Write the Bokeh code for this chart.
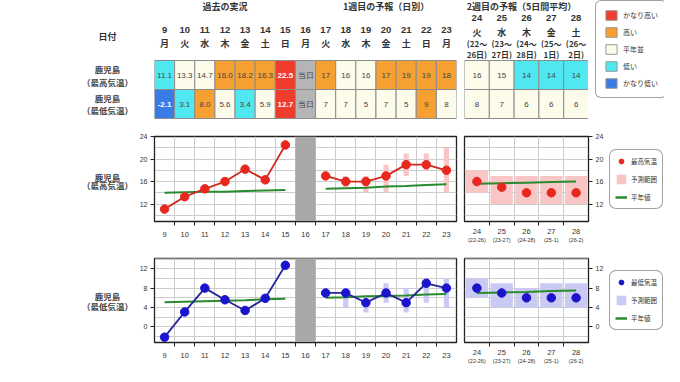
from bokeh.plotting import figure
from bokeh.layouts import row, column
from bokeh.models import Range1d, FixedTicker, LinearAxis, Legend, LegendItem, Label, ColumnDataSource
from bokeh.core.properties import value
from bokeh.embed import file_html
from bokeh.resources import INLINE

JP = "Noto Sans CJK JP"
NUM = "Liberation Sans"

# ---------------- data ----------------
past_days = [9, 10, 11, 12, 13, 14, 15]
today = 16
fc_days = [17, 18, 19, 20, 21, 22, 23]
w2_days = [24, 25, 26, 27, 28]
w1_weekdays = ["月", "火", "水", "木", "金", "土", "日", "月", "火", "水", "木", "金", "土", "日", "月"]
w2_weekdays = ["火", "水", "木", "金", "土"]
w2_from = ["22", "23", "24", "25", "26"]
w2_to = ["26", "27", "28", "1", "2"]

past_max = [11.1, 13.3, 14.7, 16.0, 18.2, 16.3, 22.5]
past_min = [-2.1, 3.1, 8.0, 5.6, 3.4, 5.9, 12.7]
past_max_cls = ["低い", "平年並", "平年並", "高い", "高い", "高い", "かなり高い"]
past_min_cls = ["かなり低い", "低い", "高い", "平年並", "低い", "平年並", "かなり高い"]
past_max_norm = [14.0, 14.1, 14.2, 14.2, 14.3, 14.4, 14.5]
past_min_norm = [5.1, 5.2, 5.3, 5.4, 5.5, 5.7, 5.8]

fc_max = [17, 16, 16, 17, 19, 19, 18]
fc_max_lo = [None, 15, 14, 14, 17, 18, 14]
fc_max_hi = [None, 17, 17, 19, 21, 21, 22]
fc_max_cls = ["高い", "平年並", "平年並", "高い", "高い", "高い", "高い"]
fc_max_norm = [14.7, 14.8, 14.9, 15.1, 15.2, 15.4, 15.5]

fc_min = [7, 7, 5, 7, 5, 9, 8]
fc_min_lo = [None, 4, 3, 5, 3, 5, 4]
fc_min_hi = [None, 8, 5, 9, 8, 10, 10]
fc_min_cls = ["平年並", "平年並", "平年並", "平年並", "平年並", "高い", "平年並"]
fc_min_norm = [6.0, 6.1, 6.3, 6.4, 6.5, 6.7, 6.8]

w2_max = [16, 15, 14, 14, 14]
w2_max_lo = [14, 12, 12, 12, 12]
w2_max_hi = [18, 17, 17, 17, 17]
w2_max_cls = ["平年並", "平年並", "低い", "低い", "低い"]
w2_max_norm = [15.6, 15.7, 15.8, 15.9, 16.0]

w2_min = [8, 7, 6, 6, 6]
w2_min_lo = [6, 4, 4, 4, 4]
w2_min_hi = [10, 9, 8, 9, 9]
w2_min_cls = ["平年並", "平年並", "平年並", "平年並", "平年並"]
w2_min_norm = [7.0, 7.1, 7.2, 7.4, 7.5]

classes = ["かなり高い", "高い", "平年並", "低い", "かなり低い"]
class_colors = ["#F03C2D", "#F6A031", "#FDFBEA", "#50E8F0", "#3A7CE6"]
CLS = dict(zip(classes, class_colors))
TODAY_LABEL = "当日"

# ---------------- styles / layout ----------------
LBL_W, W1_W, W2T_W, CL_W, W2C_W, LG_W = 132, 328, 128, 76, 148, 56
H1, H2, H3 = 120, 125, 121
LBL_X = 107
TODAY_GRAY = "#B5B5B5"
MAX_LINE, MAX_PT = "#CF2B1F", "#E8271E"
MIN_LINE, MIN_PT = "#26259B", "#1B14CC"
PINK, LAV = "#F9C6C6", "#CACAF5"
GREEN = "#2A8A2E"
BAND = "#A8A8A8"
TXT = "#333333"
GRID = "#cccccc"


def fig(w, h, **kw):
    p = figure(width=w, height=h, output_backend="svg", toolbar_location=None, **kw)
    p.outline_line_color = None
    p.background_fill_color = "white"
    p.border_fill_color = "white"
    return p


def blank(w, h, xr, yr, **kw):
    kw.setdefault("min_border", 0)
    return fig(w, h, x_range=xr, y_range=yr, x_axis_type=None, y_axis_type=None, **kw)


def txt(p, x, y, t, size="8px", color=TXT, bold=False, align="center", font=JP):
    p.text(x=x, y=y, text=t, text_align=align, text_baseline="middle",
           text_font=value(font), text_font_size=size, text_color=color,
           text_font_style="bold" if bold else "normal")


def cell_texts(p, xs, y, vals, cls):
    strong = [i for i, c in enumerate(cls) if c in ("かなり高い", "かなり低い")]
    weak = [i for i in range(len(xs)) if i not in strong]
    if weak:
        txt(p, [xs[i] for i in weak], [y] * len(weak), [vals[i] for i in weak], size="8px", color="#444444", font=NUM)
    if strong:
        txt(p, [xs[i] for i in strong], [y] * len(strong), [vals[i] for i in strong], size="8px", color="white", bold=True, font=NUM)


# ---------------- row 1 : table ----------------
R1_Y, R2_Y, CELL_H = 74.5, 103.5, 29

lab1 = blank(LBL_W, H1, Range1d(0, LBL_W), Range1d(H1, 0))
txt(lab1, [LBL_X], [36], ["日付"], size="9px", bold=True)
txt(lab1, [LBL_X] * 4, [68, 81, 97, 109], ["鹿児島", "（最高気温）", "鹿児島", "（最低気温）"], size="8.5px", bold=True, color="#444444")

w1_days = past_days + [today] + fc_days
t1 = blank(W1_W, H1, Range1d(past_days[0] - 0.5, fc_days[-1] + 0.5), Range1d(H1, 0),
           min_border_left=22, min_border_right=4)
txt(t1, [(past_days[0] + past_days[-1]) / 2], [6], ["過去の実況"], size="9px", bold=True)
txt(t1, [(fc_days[0] + fc_days[-1]) / 2], [6], ["1週目の予報（日別）"], size="9px", bold=True)
txt(t1, w1_days, [29] * 15, [str(d) for d in w1_days], size="9.5px", bold=True, font=NUM)
txt(t1, w1_days, [43] * 15, w1_weekdays, size="9px", bold=True)

row1_vals = [f"{v:.1f}" for v in past_max] + [TODAY_LABEL] + [str(v) for v in fc_max]
row2_vals = [f"{v:.1f}" for v in past_min] + [TODAY_LABEL] + [str(v) for v in fc_min]
row1_cls = past_max_cls + ["today"] + fc_max_cls
row2_cls = past_min_cls + ["today"] + fc_min_cls
row1_col = [CLS.get(c, TODAY_GRAY) for c in row1_cls]
row2_col = [CLS.get(c, TODAY_GRAY) for c in row2_cls]
t1.rect(x=w1_days, y=[R1_Y] * 15, width=1, height=CELL_H, fill_color=row1_col, line_color="#8c8c8c", line_width=1)
t1.rect(x=w1_days, y=[R2_Y] * 15, width=1, height=CELL_H, fill_color=row2_col, line_color="#8c8c8c", line_width=1)
cell_texts(t1, w1_days, R1_Y, row1_vals, row1_cls)
cell_texts(t1, w1_days, R2_Y, row2_vals, row2_cls)

t2 = blank(W2T_W, H1, Range1d(w2_days[0] - 0.5, w2_days[-1] + 0.5), Range1d(H1, 0),
           min_border_left=4, min_border_right=0)
txt(t2, [(w2_days[0] + w2_days[-1]) / 2 - 0.2], [6], ["2週目の予報（5日間平均）"], size="9px", bold=True)
txt(t2, w2_days, [17] * 5, [str(d) for d in w2_days], size="9.5px", bold=True, font=NUM)
txt(t2, w2_days, [32] * 5, w2_weekdays, size="9px", bold=True)
txt(t2, w2_days, [43] * 5, ["(" + a + "～" for a in w2_from], size="8px", bold=True)
txt(t2, w2_days, [54] * 5, [b + "日)" for b in w2_to], size="8px", bold=True)
t2.rect(x=w2_days, y=[R1_Y] * 5, width=1, height=CELL_H, fill_color=[CLS[c] for c in w2_max_cls], line_color="#8c8c8c")
t2.rect(x=w2_days, y=[R2_Y] * 5, width=1, height=CELL_H, fill_color=[CLS[c] for c in w2_min_cls], line_color="#8c8c8c")
cell_texts(t2, w2_days, R1_Y, [str(v) for v in w2_max], w2_max_cls)
cell_texts(t2, w2_days, R2_Y, [str(v) for v in w2_min], w2_min_cls)

# colour key (legend keyed on a hidden renderer holding the class colours)
cl = blank(CL_W, H1, Range1d(0, 1), Range1d(0, 1))
key_src = ColumnDataSource(dict(x=list(range(len(classes))), y=[0] * len(classes), color=class_colors))
kr = cl.rect(x="x", y="y", width=1, height=1, fill_color="color", line_color="#999999", source=key_src, visible=False)
cl_items = [LegendItem(label=name, renderers=[kr], index=i) for i, name in enumerate(classes)]
cleg = Legend(items=cl_items, location=(7, 22), padding=8, spacing=5, glyph_width=14, glyph_height=12,
              label_height=12, label_width=10, label_standoff=5, label_text_font=JP,
              label_text_font_size="7px", label_text_color=TXT, border_line_color="#444444",
              border_line_width=1, border_radius=6, background_fill_alpha=1)
cl.add_layout(cleg)

row_top = row(lab1, t1, t2, cl)


# ---------------- chart rows ----------------
def chart_row(h, title2, yr, y_ticks, y_grid, top, bottom, vals, lo, hi, cls_norm, pvals, pnorm,
              w2v, w2lo, w2hi, w2n, line_c, pt_c, band_c, leg_name, lab_y):
    lab = blank(LBL_W, h, Range1d(0, LBL_W), Range1d(h, 0))
    txt(lab, [LBL_X, LBL_X], lab_y, ["鹿児島", title2], size="8.5px", bold=True, color="#444444")

    bounds = [d + 0.5 for d in w1_days[:-1]]
    a = fig(W1_W, h, x_range=Range1d(w1_days[0] - 0.5, w1_days[-1] + 0.5), y_range=Range1d(*yr),
            min_border_left=22, min_border_right=4, min_border_top=top, min_border_bottom=bottom)
    b = fig(W2C_W, h, x_range=Range1d(w2_days[0] - 0.5, w2_days[-1] + 0.5), y_range=Range1d(*yr),
            y_axis_location="right", min_border_left=4, min_border_right=20, min_border_top=top,
            min_border_bottom=bottom)
    w2b = [d + 0.5 for d in w2_days[:-1]]
    for p, ticks, bnd in ((a, w1_days, bounds), (b, w2_days, w2b)):
        p.outline_line_color = "#222222"
        p.outline_line_width = 1.3
        p.xgrid.ticker = FixedTicker(ticks=bnd)
        p.ygrid.ticker = FixedTicker(ticks=y_grid)
        p.grid.grid_line_color = GRID
        p.grid.grid_line_width = 1
        p.xaxis.ticker = FixedTicker(ticks=ticks, minor_ticks=bnd)
        p.xaxis.major_tick_out = 0
        p.xaxis.major_tick_in = 0
        p.xaxis.minor_tick_out = 4
        p.xaxis.minor_tick_in = 0
        p.xaxis.minor_tick_line_color = "#222222"
        p.xaxis.axis_line_color = "#222222"
        p.xaxis.major_label_text_font = NUM
        p.xaxis.major_label_text_font_size = "7.5px"
        p.xaxis.major_label_text_color = TXT
        p.yaxis.ticker = FixedTicker(ticks=y_ticks)
        p.yaxis.major_tick_out = 4
        p.yaxis.major_tick_in = 0
        p.yaxis.major_tick_line_color = "#222222"
        p.yaxis.axis_line_color = "#222222"
        p.yaxis.major_label_text_font = NUM
        p.yaxis.major_label_text_font_size = "7px"
        p.yaxis.major_label_text_color = TXT
        p.yaxis.major_label_standoff = 3
    a.xaxis.major_label_standoff = 6
    b.xaxis.major_label_standoff = 3
    ax2 = LinearAxis(ticker=FixedTicker(ticks=w2_days),
                     major_label_overrides={d: f"({f}-{t})" for d, f, t in zip(w2_days, w2_from, w2_to)},
                     axis_line_color=None, major_tick_line_color=None, minor_tick_line_color=None,
                     major_tick_out=0, minor_tick_out=0, major_label_standoff=0,
                     major_label_text_font=NUM, major_label_text_font_size="5.5px", major_label_text_color=TXT)
    b.add_layout(ax2, "below")

    # 当日 band
    a.vbar(x=[today], width=1, bottom=yr[0], top=yr[1], fill_color=BAND, line_color=None)
    # forecast ranges (week 1)
    rx = [d for d, l in zip(fc_days, lo) if l is not None]
    rl = [l for l in lo if l is not None]
    rh = [v for v in hi if v is not None]
    a.vbar(x=rx, width=0.26, bottom=rl, top=rh, fill_color=band_c, line_color=None)
    # normals
    a.line(past_days, pnorm, line_color=GREEN, line_width=2)
    a.line(fc_days, cls_norm, line_color=GREEN, line_width=2)
    # observed / forecast
    a.line(past_days, pvals, line_color=line_c, line_width=1.8)
    a.scatter(past_days, pvals, size=8.5, fill_color=pt_c, line_color=pt_c)
    a.line(fc_days, vals, line_color=line_c, line_width=1.8)
    a.scatter(fc_days, vals, size=8.5, fill_color=pt_c, line_color=pt_c)

    b.vbar(x=w2_days, width=0.9, bottom=w2lo, top=w2hi, fill_color=band_c, line_color=None)
    b.line(w2_days, w2n, line_color=GREEN, line_width=2)
    b.scatter(w2_days, w2v, size=8.5, fill_color=pt_c, line_color=pt_c)

    a.add_layout(Label(x=w1_days[0] - 0.5, y=yr[1], y_offset=7, text="(℃)", text_align="center",
                       text_baseline="middle", text_font=JP, text_font_size="6.5px", text_color=TXT))
    b.add_layout(Label(x=w2_days[-1] + 0.5, y=yr[1], y_offset=7, text="(℃)", text_align="center",
                       text_baseline="middle", text_font=JP, text_font_size="6.5px", text_color=TXT))

    # legend panel (keyed on hidden copies of the week-2 renderers)
    g = blank(LG_W, h, Range1d(0, 1), Range1d(0, 1))
    r1 = g.scatter(w2_days, w2v, size=6, fill_color=pt_c, line_color=pt_c, visible=False)
    r2 = g.vbar(x=w2_days, width=0.9, bottom=w2lo, top=w2hi, fill_color=band_c, line_color=None, visible=False)
    r3 = g.line(w2_days, w2n, line_color=GREEN, line_width=2.5, visible=False)
    leg = Legend(items=[LegendItem(label=leg_name, renderers=[r1]),
                        LegendItem(label="予測範囲", renderers=[r2]),
                        LegendItem(label="平年値", renderers=[r3])],
                 location="center", padding=5, spacing=6, glyph_width=12, glyph_height=12,
                 label_height=12, label_width=10, label_standoff=4, label_text_font=JP,
                 label_text_font_size="6.5px", label_text_color=TXT, border_line_color="#444444",
                 border_line_width=1, border_radius=7, background_fill_alpha=1)
    g.add_layout(leg)
    return row(lab, a, b, g)


row_max = chart_row(H2, "（最高気温）", (8.9, 24.0), [12, 16, 20, 24], [10, 12, 14, 16, 18, 20, 22, 24], 16, 21,
                    fc_max, fc_max_lo, fc_max_hi, fc_max_norm, past_max, past_max_norm,
                    w2_max, w2_max_lo, w2_max_hi, w2_max_norm, MAX_LINE, MAX_PT, PINK, "最高気温", [59, 72])
row_min = chart_row(H3, "（最低気温）", (-3.2, 14.1), [0, 4, 8, 12], [-2, 0, 2, 4, 6, 8, 10, 12, 14], 13, 20,
                    fc_min, fc_min_lo, fc_min_hi, fc_min_norm, past_min, past_min_norm,
                    w2_min, w2_min_lo, w2_min_hi, w2_min_norm, MIN_LINE, MIN_PT, LAV, "最低気温", [54, 68])

page = column(row_top, row_max, row_min)
open("out.html", "w").write(file_html(page, INLINE))
